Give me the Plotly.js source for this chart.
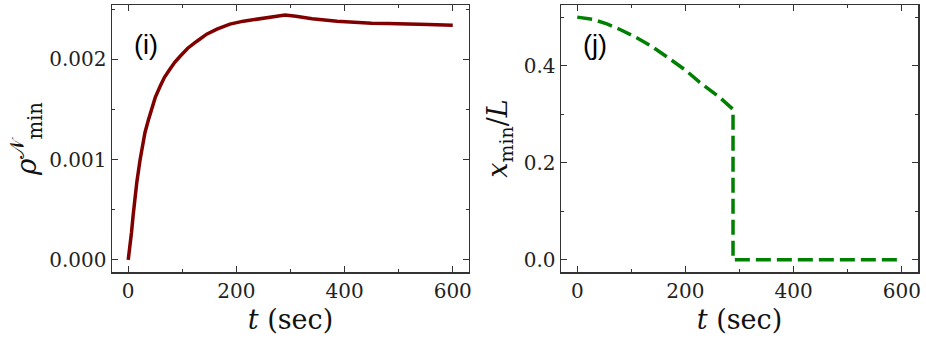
<!DOCTYPE html>
<html>
<head>
<meta charset="utf-8">
<script src="https://cdn.plot.ly/plotly-3.0.1.min.js"></script>
<style>
  html, body { margin: 0; padding: 0; background: #fff; }
  #chart { width: 926px; height: 348px; }
</style>
</head>
<body>
<div id="chart"></div>
<script>
// panel (i): minimum density vs time
const tRho = [0, 3, 6, 9, 12, 16, 22, 26, 31, 37, 43, 50, 59, 67, 77, 86, 96, 110, 127, 145, 164, 188, 213, 238,
    263, 280, 290, 310, 340, 386, 420, 450, 480, 510, 555, 600];
const rhoMin = [0, 0.00012, 0.00027, 0.00044, 0.0006, 0.00078, 0.001, 0.00114, 0.00127, 0.00139, 0.0015,
    0.00162, 0.00173, 0.00182, 0.0019, 0.00197, 0.00203, 0.00211, 0.00218, 0.00225, 0.0023, 0.00235,
    0.00238, 0.0024, 0.00242, 0.002433, 0.00244, 0.002428, 0.002405, 0.00238, 0.002368, 0.00236,
    0.002357, 0.002355, 0.002347, 0.00234];

// panel (j): position of the minimum vs time
const tX = [0, 30, 55, 80, 110, 140, 171, 200, 226, 245, 263, 288, 288, 600];
const xMin = [0.5, 0.495, 0.486, 0.474, 0.4576, 0.438, 0.414, 0.391, 0.366, 0.351, 0.335, 0.31, 0, 0];

const xTicks = [0, 200, 400, 600];
const rhoTicks = [0, 0.001, 0.002];
const xMinTicks = [0, 0.2, 0.4];

const serif = 'DejaVu Serif';
const sans = 'Liberation Sans';
const frame = '#333333';

function axisStyle(extra) {
    return Object.assign({
        showline: true,
        linecolor: frame,
        linewidth: 1.5,
        mirror: 'allticks',
        ticks: 'inside',
        ticklen: 6,
        tickwidth: 1.2,
        tickcolor: frame,
        showgrid: false,
        zeroline: false,
        tickfont: { family: serif, size: 20, color: '#222' }
    }, extra);
}

const traces = [
    {
        x: tRho, y: rhoMin,
        mode: 'lines',
        line: { color: '#800000', width: 3.5 },
        xaxis: 'x', yaxis: 'y',
        hoverinfo: 'skip'
    },
    {
        x: tX, y: xMin,
        mode: 'lines',
        line: { color: '#008000', width: 3.5, dash: '15px,6px' },
        xaxis: 'x2', yaxis: 'y2',
        hoverinfo: 'skip'
    }
];

const xTitle = { text: '<i>t</i> (sec)', font: { family: serif, size: 27, color: '#111' }, standoff: 8 };

const layout = {
    width: 926,
    height: 348,
    margin: { l: 112, r: 8, t: 5, b: 76 },
    paper_bgcolor: '#fff',
    plot_bgcolor: '#fff',
    showlegend: false,
    xaxis: axisStyle({
        domain: [0, 0.4429],
        range: [-30, 630],
        tickvals: xTicks,
        minor: { dtick: 100, tick0: 0, ticks: 'inside', ticklen: 3, tickcolor: frame },
        title: xTitle,
        anchor: 'y'
    }),
    yaxis: axisStyle({
        range: [-0.000121, 0.002541],
        tickvals: rhoTicks,
        tickformat: '.3f',
        minor: { dtick: 0.0005, tick0: 0, ticks: 'inside', ticklen: 3, tickcolor: frame },
        title: { text: '<i>ρ</i><sup>𝒩</sup><sub>min</sub>', font: { family: serif, size: 28, color: '#111' }, standoff: 4 },
        anchor: 'x'
    }),
    xaxis2: axisStyle({
        domain: [0.5571, 1],
        range: [-30, 630],
        tickvals: xTicks,
        minor: { dtick: 100, tick0: 0, ticks: 'inside', ticklen: 3, tickcolor: frame },
        title: xTitle,
        anchor: 'y2'
    }),
    yaxis2: axisStyle({
        range: [-0.025, 0.525],
        tickvals: xMinTicks,
        tickformat: '.1f',
        minor: { dtick: 0.1, tick0: 0, ticks: 'inside', ticklen: 3, tickcolor: frame },
        title: { text: '<i>x</i><sub>min</sub>/<i>L</i>', font: { family: serif, size: 27, color: '#111' }, standoff: 8 },
        anchor: 'x2'
    }),
    annotations: [
        { text: '(i)', xref: 'x domain', yref: 'y domain', x: 0.095, y: 0.85, xanchor: 'center', yanchor: 'middle',
          showarrow: false, font: { family: sans, size: 27, color: '#000' } },
        { text: '(j)', xref: 'x2 domain', yref: 'y2 domain', x: 0.095, y: 0.85, xanchor: 'center', yanchor: 'middle',
          showarrow: false, font: { family: sans, size: 27, color: '#000' } }
    ]
};

Plotly.newPlot('chart', traces, layout, { displayModeBar: false, staticPlot: true });
</script>
</body>
</html>
